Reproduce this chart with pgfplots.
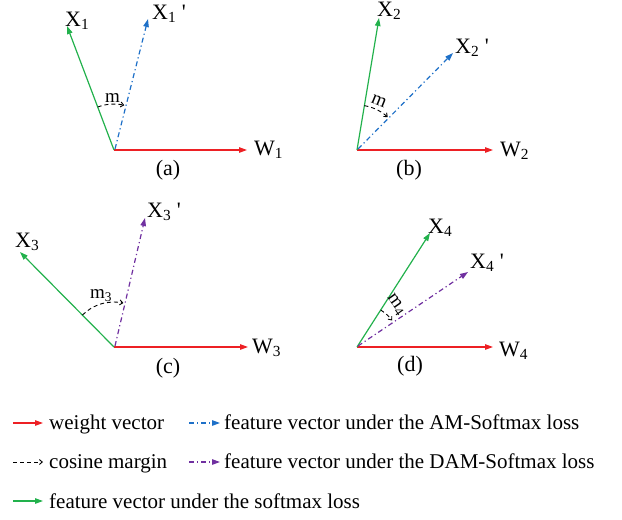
\documentclass[border=0pt]{standalone}
\usepackage{pgfplots}
\pgfplotsset{compat=1.18}
\usepackage{fontspec}
\setmainfont{Liberation Serif}
\usetikzlibrary{arrows.meta}
\definecolor{vred}{RGB}{237,32,36}
\definecolor{vgreen}{RGB}{34,177,76}
\definecolor{vblue}{RGB}{30,112,200}
\definecolor{vpurple}{RGB}{112,48,160}
\tikzset{
  vec/.style={line width=1.2pt,-{Triangle[length=8pt,width=5.5pt]}},
  dd/.style={vec,dash pattern=on 5pt off 3pt on 1.2pt off 3pt},
  arcm/.style={black,line width=0.9pt,dash pattern=on 4pt off 3pt,-{Straight Barb[length=3pt,width=5pt]}},
  lab/.style={font=\fontsize{22}{26}\selectfont,inner sep=0pt},
  labm/.style={font=\fontsize{19}{22}\selectfont,inner sep=0pt},
  leg/.style={font=\fontsize{21}{25}\selectfont,inner sep=0pt,anchor=base west}}
\begin{document}
\begin{tikzpicture}
\begin{axis}[width=622pt,height=520pt,scale only axis,
  xmin=0,xmax=622,ymin=0,ymax=520,y dir=reverse,hide axis,clip=false]
\addplot[draw=none] coordinates {(0,0) (622,520)};
% (a)
\addplot[vec,vred] coordinates {(114,150) (247,150)};
\addplot[vec,vgreen] coordinates {(114,150) (67,26)};
\addplot[dd,vblue] coordinates {(115,149) (148,19)};
\addplot[arcm,smooth] coordinates {(97.7,107.0) (104.4,105.0) (111.6,104.1) (118.8,104.3) (124.3,105.2)};
% (b)
\addplot[vec,vred] coordinates {(357,150) (493,150)};
\addplot[vec,vgreen] coordinates {(357,150) (379,18)};
\addplot[dd,vblue] coordinates {(358,149) (453,53)};
\addplot[arcm,smooth] coordinates {(364.4,105.6) (371.1,107.3) (377.4,109.9) (383.5,113.6) (387.7,117.1)};
% (c)
\addplot[vec,vred] coordinates {(114,347) (248,347)};
\addplot[vec,vgreen] coordinates {(114,347) (20,252)};
\addplot[dd,vpurple] coordinates {(115,346) (145,218)};
\addplot[arcm,smooth] coordinates {(82.4,315.0) (91.5,308.0) (102.4,303.5) (114,302) (123.4,303.0)};
% (d)
\addplot[vec,vred] coordinates {(357,347) (493,347)};
\addplot[vec,vgreen] coordinates {(357,347) (430,233)};
\addplot[dd,vpurple] coordinates {(358,346) (468,272)};
\addplot[arcm,smooth] coordinates {(380.7,310.0) (385.3,313.3) (389.2,317.0) (392.1,320.5)};
% legend
\addplot[vec,vred] coordinates {(13,423) (43,423)};
\addplot[dd,vblue] coordinates {(189,423) (220,423)};
\addplot[arcm] coordinates {(13,462) (43,462)};
\addplot[dd,vpurple] coordinates {(189,462) (220,462)};
\addplot[vec,vgreen] coordinates {(13,501) (43,501)};
% labels
\node[lab,anchor=base west] at (axis cs:65,26) {X\textsubscript{1}};
\node[lab,anchor=base west] at (axis cs:152,19) {X\textsubscript{1} \textquotesingle};
\node[lab,anchor=base west] at (axis cs:254,155) {W\textsubscript{1}};
\node[lab] at (axis cs:168,170) {(a)};
\node[labm,anchor=base west] at (axis cs:105,102) {m};
\node[lab,anchor=base west] at (axis cs:377,16) {X\textsubscript{2}};
\node[lab,anchor=base west] at (axis cs:455,53) {X\textsubscript{2} \textquotesingle};
\node[lab,anchor=base west] at (axis cs:500,156) {W\textsubscript{2}};
\node[lab] at (axis cs:409,170) {(b)};
\node[labm,rotate=-22] at (axis cs:379,101) {m};
\node[lab,anchor=base west] at (axis cs:15,247) {X\textsubscript{3}};
\node[lab,anchor=base west] at (axis cs:147,217) {X\textsubscript{3} \textquotesingle};
\node[lab,anchor=base west] at (axis cs:252,353) {W\textsubscript{3}};
\node[lab] at (axis cs:168,368) {(c)};
\node[labm] at (axis cs:101,296) {m\textsubscript{3}};
\node[lab,anchor=base west] at (axis cs:428,233) {X\textsubscript{4}};
\node[lab,anchor=base west] at (axis cs:470,268) {X\textsubscript{4} \textquotesingle};
\node[lab,anchor=base west] at (axis cs:499,356) {W\textsubscript{4}};
\node[lab] at (axis cs:410,366) {(d)};
\node[labm,rotate=-55] at (axis cs:396,305) {m\textsubscript{4}};
\node[leg] at (axis cs:49,429) {weight vector};
\node[leg] at (axis cs:224,429) {feature vector under the AM-Softmax loss};
\node[leg] at (axis cs:49,468) {cosine margin};
\node[leg] at (axis cs:224,468) {feature vector under the DAM-Softmax loss};
\node[leg] at (axis cs:49,508) {feature vector under the softmax loss};
\end{axis}
\end{tikzpicture}
\end{document}
